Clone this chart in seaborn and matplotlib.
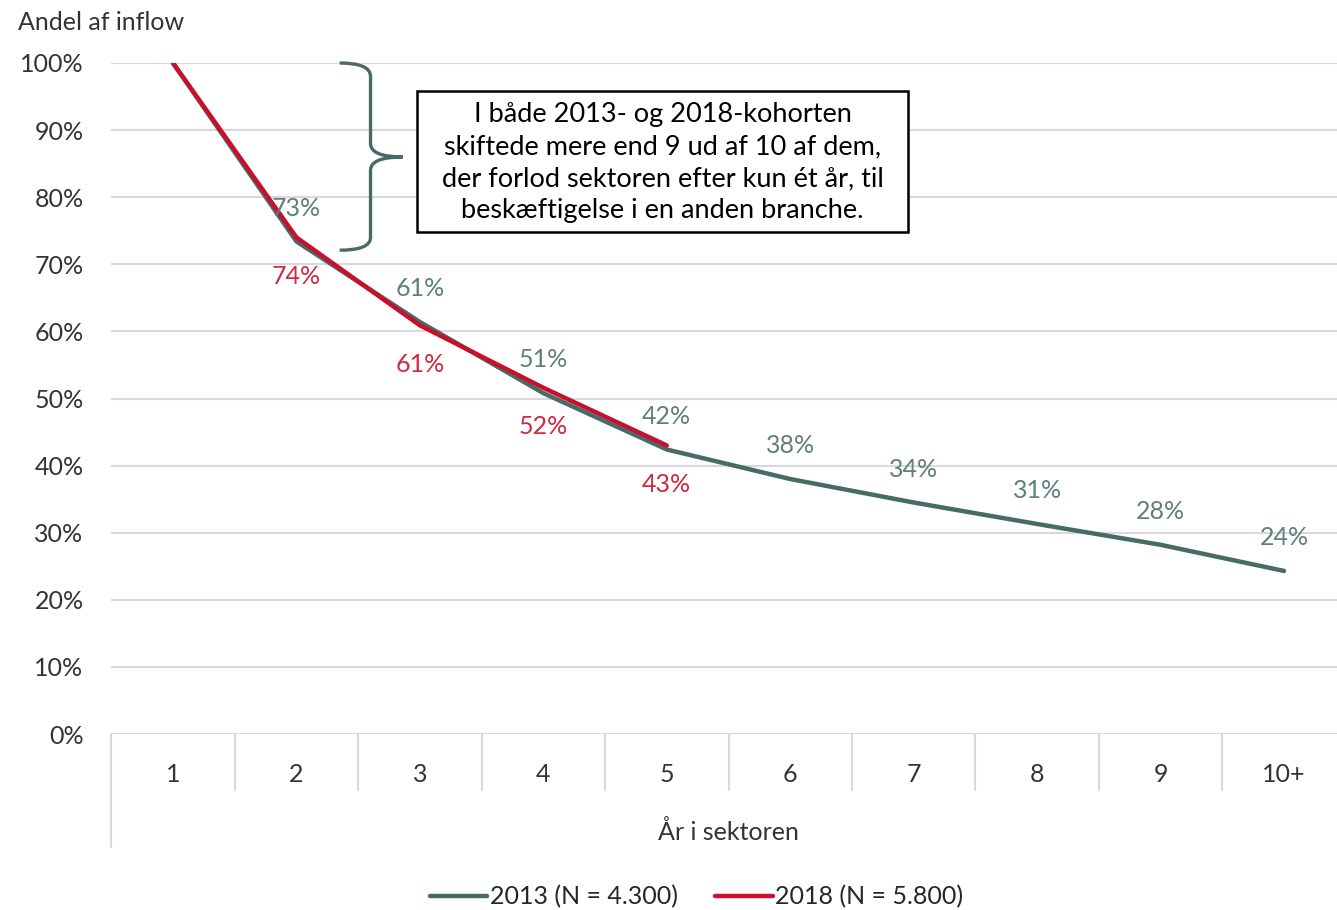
import pandas as pd
import matplotlib.pyplot as plt
import seaborn as sns
from matplotlib.path import Path
from matplotlib.patches import PathPatch, Rectangle
import matplotlib.transforms as mtransforms

# data
years = ["1", "2", "3", "4", "5", "6", "7", "8", "9", "10+"]
share_2013 = [100, 73.4, 61.4, 50.8, 42.4, 38.0, 34.5, 31.3, 28.2, 24.3]
share_2018 = [100, 74.0, 60.9, 51.6, 43.0]
label_2013 = "2013 (N = 4.300)"
label_2018 = "2018 (N = 5.800)"

GREEN = "#476B67"
RED = "#C8102E"
GREEN_TXT = "#5E7F7B"
RED_TXT = "#D2283F"
TXT = "#333333"

sns.set_style("white")
plt.rcParams['font.family'] = ['Lato', 'DejaVu Sans']
FS = 18

df = pd.concat([
    pd.DataFrame({"year": years, "share": share_2013, "cohort": label_2013}),
    pd.DataFrame({"year": years[:len(share_2018)], "share": share_2018, "cohort": label_2018}),
])

fig = plt.figure(figsize=(13.37, 9.10), dpi=100)
ax = fig.add_axes([111.3 / 1337, 176 / 910, 1234.4 / 1337, 671 / 910])

sns.lineplot(data=df, x="year", y="share", hue="cohort", sort=False,
             palette={label_2013: GREEN, label_2018: RED}, linewidth=3.2,
             ax=ax, legend=True)

ax.set_xlim(-0.5, 9.5)
ax.set_ylim(0, 100)
ax.set_yticks(range(0, 101, 10))
ax.set_yticklabels([f"{v}%" for v in range(0, 101, 10)])
ax.yaxis.grid(True, color="#D9D9D9", linewidth=1.5)
ax.set_axisbelow(True)
for s in ax.spines.values():
    s.set_visible(False)
ax.tick_params(axis="y", length=0, pad=20, labelsize=FS, labelcolor=TXT)
ax.tick_params(axis="x", length=0, pad=21, labelsize=FS, labelcolor=TXT)
ax.set_ylabel("")
ax.set_xlabel("År i sektoren", fontsize=FS, color=TXT, labelpad=24)

# category separators below the axis
trans = mtransforms.blended_transform_factory(ax.transData, ax.transAxes)
for k in range(len(years)):
    ax.plot([k + 0.5, k + 0.5], [0, -0.083], transform=trans, color="#D9D9D9",
            lw=1.5, clip_on=False)
ax.plot([-0.5, -0.5], [0, -0.168], transform=trans, color="#D9D9D9", lw=1.5, clip_on=False)

# data labels
for i, v in enumerate(share_2013):
    if i == 0:
        continue
    ax.annotate(f"{round(v)}%", (i, v), xytext=(0, 24), textcoords="offset points",
                ha="center", va="center", fontsize=FS, color=GREEN_TXT)
for i, v in enumerate(share_2018):
    if i == 0:
        continue
    ax.annotate(f"{round(v)}%", (i, v), xytext=(0, -28), textcoords="offset points",
                ha="center", va="center", fontsize=FS, color=RED_TXT)

# curly brace
verts = [(1.35, 100), (1.60, 100), (1.60, 98), (1.60, 88), (1.60, 86), (1.86, 86),
         (1.60, 86), (1.60, 84), (1.60, 74), (1.60, 72.1), (1.35, 72.1)]
codes = [Path.MOVETO, Path.CURVE3, Path.CURVE3, Path.LINETO, Path.CURVE3, Path.CURVE3,
         Path.CURVE3, Path.CURVE3, Path.LINETO, Path.CURVE3, Path.CURVE3]
ax.add_patch(PathPatch(Path(verts, codes), facecolor="none", edgecolor=GREEN,
                       lw=2.4, clip_on=False))

# annotation box
ax.add_patch(Rectangle((1.977, 74.8), 3.979, 21.0, facecolor="white", edgecolor="black",
                       lw=1.8, zorder=4))
ax.text(3.965, 85.15,
        "I både 2013- og 2018-kohorten\nskiftede mere end 9 ud af 10 af dem,\n"
        "der forlod sektoren efter kun ét år, til\nbeskæftigelse i en anden branche.",
        ha="center", va="center", fontsize=19.5, color="black",
        linespacing=1.36, zorder=5)

fig.text(18 / 1337, 1 - 23 / 910, "Andel af inflow", fontsize=FS, color=TXT,
         ha="left", va="center")

handles, labels = ax.get_legend_handles_labels()
ax.get_legend().remove()
fig.legend(handles, labels, loc="center", bbox_to_anchor=(0.521, 1 - 897 / 910), ncol=2,
           frameon=False, fontsize=FS, handlelength=2.3, handletextpad=0.1,
           columnspacing=1.5)

fig.savefig("out.png", dpi=100)
